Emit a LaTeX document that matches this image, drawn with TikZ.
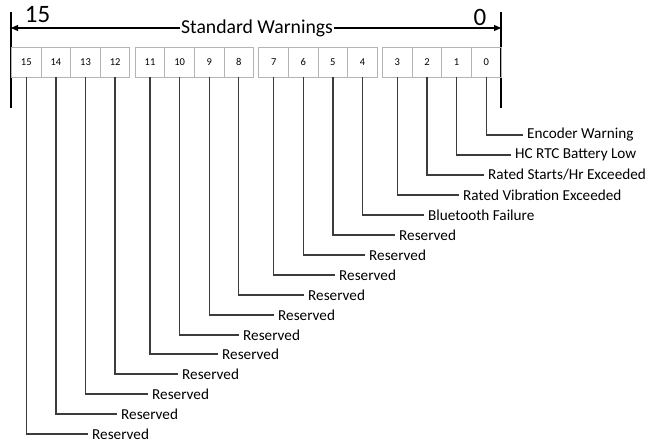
\documentclass[tikz,border=0pt]{standalone}
\usepackage{fontspec}
\setmainfont{Carlito}
\usetikzlibrary{arrows.meta}
\definecolor{cellgray}{HTML}{B4B4B4}
\definecolor{wiregray}{HTML}{3C3C3C}
\tikzstyle{bitcell} = [rectangle, minimum width=29.6pt, minimum height=30pt, inner sep=0pt, text centered, draw=cellgray, line width=0.9pt, font=\fontsize{10.5}{12}\selectfont]
\tikzstyle{flag} = [anchor=west, inner sep=4pt, font=\fontsize{15.2}{18}\selectfont]
\tikzstyle{wire} = [draw=wiregray, line width=1.3pt]
\tikzstyle{arrow} = [line width=1.1pt, -{Triangle[length=7pt,width=6pt]}]

\begin{document}
\begin{tikzpicture}[x=1pt, y=-1pt]
\useasboundingbox (0,0) rectangle (661,443);

% Header with bit range
\coordinate (ltop) at (11,12);
\coordinate (lbot) at (11,108);
\coordinate (rtop) at (501,12);
\coordinate (rbot) at (501,108);
\coordinate (larr) at (11,28);
\coordinate (rarr) at (501,28);
\node (title) [inner sep=1pt, font=\fontsize{19.7}{22}\selectfont] at (257,28) {Standard Warnings};
\node (msb) [font=\fontsize{25}{28}\selectfont] at (37.5,15) {15};
\node (lsb) [font=\fontsize{25}{28}\selectfont] at (480,17) {0};
\draw [line width=1.3pt] (ltop) -- (lbot);
\draw [line width=1.3pt] (rtop) -- (rbot);
\draw [arrow] (title) -- (larr);
\draw [arrow] (title) -- (rarr);

% Nodes for bit cells
\node (b15) [bitcell] at (26.3,62) {15};
\node (b14) [bitcell] at (55.9,62) {14};
\node (b13) [bitcell] at (85.5,62) {13};
\node (b12) [bitcell] at (115.1,62) {12};
\node (b11) [bitcell] at (150.0,62) {11};
\node (b10) [bitcell] at (179.6,62) {10};
\node (b9) [bitcell] at (209.2,62) {9};
\node (b8) [bitcell] at (238.8,62) {8};
\node (b7) [bitcell] at (273.7,62) {7};
\node (b6) [bitcell] at (303.3,62) {6};
\node (b5) [bitcell] at (332.9,62) {5};
\node (b4) [bitcell] at (362.5,62) {4};
\node (b3) [bitcell] at (397.4,62) {3};
\node (b2) [bitcell] at (427.0,62) {2};
\node (b1) [bitcell] at (456.6,62) {1};
\node (b0) [bitcell] at (486.2,62) {0};

% Nodes for warning names
\node (l0) [flag] at (523,135) {Encoder Warning};
\node (l1) [flag] at (511,155) {HC RTC Battery Low};
\node (l2) [flag] at (484,175) {Rated Starts/Hr Exceeded};
\node (l3) [flag] at (459,195) {Rated Vibration Exceeded};
\node (l4) [flag] at (424,215) {Bluetooth Failure};
\node (l5) [flag] at (395,235) {Reserved};
\node (l6) [flag] at (365,255) {Reserved};
\node (l7) [flag] at (335,275) {Reserved};
\node (l8) [flag] at (304,295) {Reserved};
\node (l9) [flag] at (274,315) {Reserved};
\node (l10) [flag] at (239,335) {Reserved};
\node (l11) [flag] at (218,354) {Reserved};
\node (l12) [flag] at (178,374) {Reserved};
\node (l13) [flag] at (148,394) {Reserved};
\node (l14) [flag] at (117,414) {Reserved};
\node (l15) [flag] at (88,434) {Reserved};

% Wires from cells to names
\draw [wire] (b0.south) |- (l0.west);
\draw [wire] (b1.south) |- (l1.west);
\draw [wire] (b2.south) |- (l2.west);
\draw [wire] (b3.south) |- (l3.west);
\draw [wire] (b4.south) |- (l4.west);
\draw [wire] (b5.south) |- (l5.west);
\draw [wire] (b6.south) |- (l6.west);
\draw [wire] (b7.south) |- (l7.west);
\draw [wire] (b8.south) |- (l8.west);
\draw [wire] (b9.south) |- (l9.west);
\draw [wire] (b10.south) |- (l10.west);
\draw [wire] (b11.south) |- (l11.west);
\draw [wire] (b12.south) |- (l12.west);
\draw [wire] (b13.south) |- (l13.west);
\draw [wire] (b14.south) |- (l14.west);
\draw [wire] (b15.south) |- (l15.west);

\end{tikzpicture}
\end{document}
